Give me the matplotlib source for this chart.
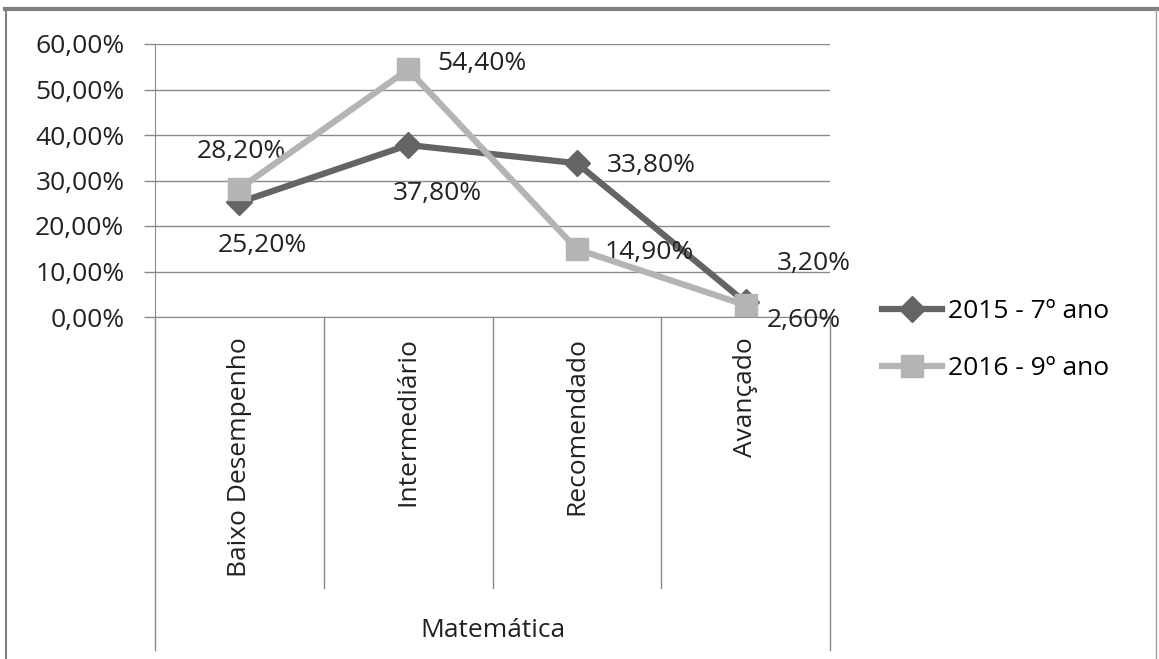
import matplotlib.pyplot as plt
from matplotlib.lines import Line2D

categories = ['Baixo Desempenho', 'Intermediário', 'Recomendado', 'Avançado']
group_label = 'Matemática'
serie_2015 = [25.2, 37.8, 33.8, 3.2]
serie_2016 = [28.2, 54.4, 14.9, 2.6]
labels = ['2015 - 7º ano', '2016 - 9º ano']
yticks = [0, 10, 20, 30, 40, 50, 60]

plt.rcParams['font.family'] = ['Open Sans', 'DejaVu Sans']
FS = 19
GRID = '#8a8a8a'
DARK = '#646464'
LIGHT = '#b4b4b4'
TXT = '#222222'

W, H = 1159, 659
fig = plt.figure(figsize=(W / 100, H / 100), dpi=100)
ax = fig.add_axes([155 / W, 1 - 317 / H, (830 - 155) / W, (317 - 44) / H])

x = [i + 0.5 for i in range(len(categories))]
ax.plot(x, serie_2015, color=DARK, lw=4.5, marker='D', ms=13, label=labels[0], zorder=3)
ax.plot(x, serie_2016, color=LIGHT, lw=4.5, marker='s', ms=16, label=labels[1], zorder=4)

ax.set_xlim(0, 4)
ax.set_ylim(0, 60)
ax.set_yticks(yticks)
ax.set_yticklabels([f'{v:.2f}%'.replace('.', ',') for v in yticks], fontsize=FS, color=TXT)
ax.tick_params(axis='y', length=8, width=1, color=GRID, pad=14)
ax.set_xticks([])
ax.grid(axis='y', color=GRID, lw=1)
ax.set_axisbelow(True)
for s in ['top', 'right']:
    ax.spines[s].set_visible(False)
for s in ['left', 'bottom']:
    ax.spines[s].set_color(GRID)

# data labels (offsets in pixels)
off_2015 = [(23, -43), (29, -48), (74, -2), (68, 39)]
off_2016 = [(2, 37), (74, 6), (72, -3), (58, -15)]
for xi, v, o in zip(x, serie_2015, off_2015):
    ax.annotate(f'{v:.2f}%'.replace('.', ','), (xi, v), xytext=o, textcoords='offset pixels',
                ha='center', va='center', fontsize=FS, color=TXT, annotation_clip=False)
for xi, v, o in zip(x, serie_2016, off_2016):
    ax.annotate(f'{v:.2f}%'.replace('.', ','), (xi, v), xytext=o, textcoords='offset pixels',
                ha='center', va='center', fontsize=FS, color=TXT, annotation_clip=False)

# multi-level category axis
tr = ax.get_xaxis_transform()
for i in range(1, len(categories)):
    ax.plot([i, i], [0, -0.993], transform=tr, color=GRID, lw=1, clip_on=False)
for i in [0, len(categories)]:
    ax.plot([i, i], [0, -1.22], transform=tr, color=GRID, lw=1, clip_on=False)
for xi, c in zip(x, categories):
    ax.text(xi, -0.075, c, transform=tr, rotation=90, ha='center', va='top', fontsize=FS, color=TXT)
ax.text(2, -1.147, group_label, transform=tr, ha='center', va='center', fontsize=FS, color=TXT)

ax.legend(loc='center left', bbox_to_anchor=(858 / W, 1 - 340 / H), bbox_transform=fig.transFigure,
          frameon=False, fontsize=FS, handlelength=2.3, labelspacing=1.2, handletextpad=0.2)

# outer chart border
fig.add_artist(Line2D([5 / W, 1], [1 - 9 / H, 1 - 9 / H], color='#808080', lw=3))
fig.add_artist(Line2D([6 / W, 6 / W], [0, 1 - 9 / H], color='#808080', lw=1.5))
fig.add_artist(Line2D([1156 / W, 1156 / W], [0, 1 - 9 / H], color='#a0a0a0', lw=1))

fig.savefig('out.png', dpi=100)
